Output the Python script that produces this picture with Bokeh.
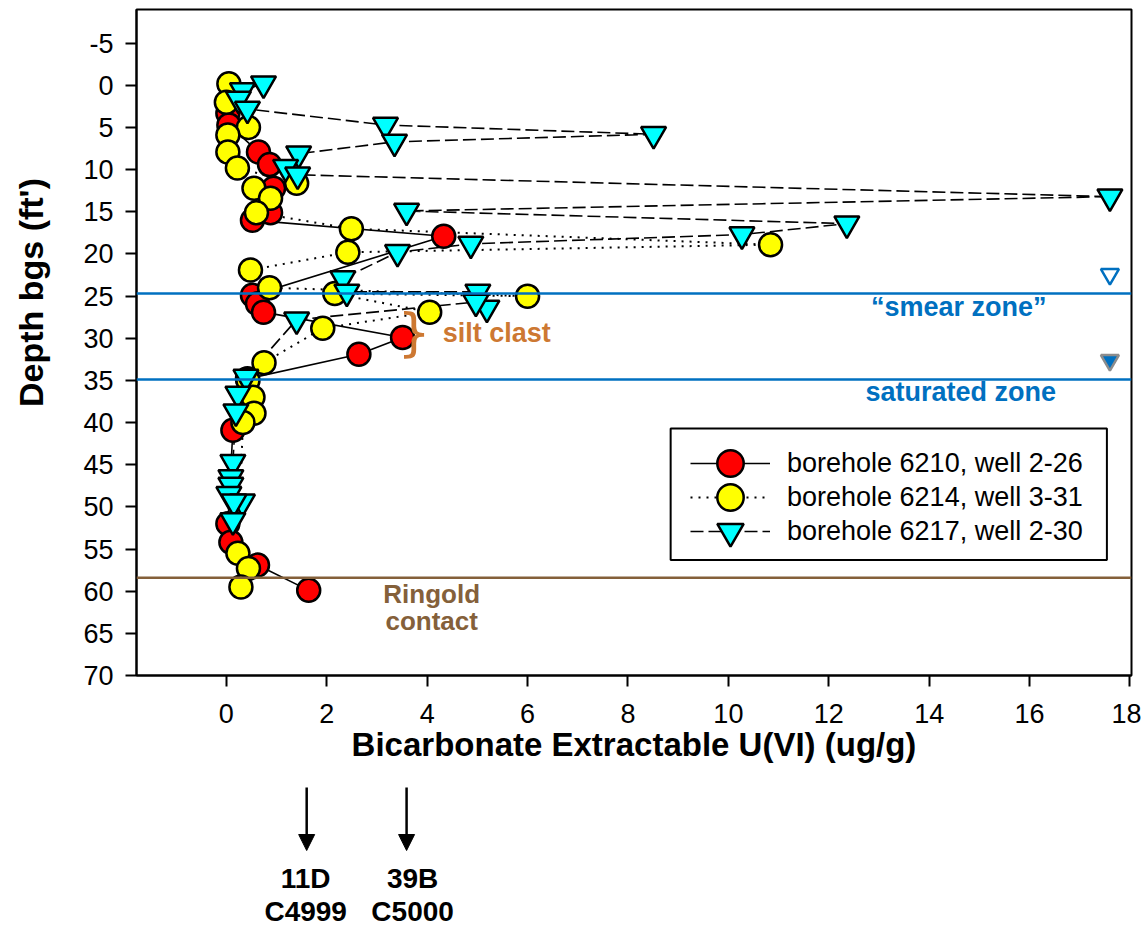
import math
from bokeh.plotting import figure
from bokeh.layouts import column, row
from bokeh.models import (Range1d, FixedTicker, Span, Label, Legend, LegendItem,
                          Arrow, NormalHead, BoxAnnotation)
from bokeh.embed import file_html
from bokeh.resources import INLINE

FONT = "Liberation Sans"

# ---------------- data ----------------
bh6210_u = [0.03, 0.05, 0.64, 0.86, 0.94, 0.88, 0.52, 4.33, 0.52, 0.62, 0.74,
            3.51, 2.64, 0.42, 0.13, 0.03, 0.09, 0.62, 1.64]
bh6210_depth = [3.3, 4.7, 7.9, 9.4, 12.2, 15.1, 16.0, 17.9, 24.9, 25.9, 26.9,
                29.9, 31.9, 34.8, 40.9, 52.0, 54.2, 56.9, 59.9]

bh6214_u = [0.05, 0.0, 0.44, 0.03, 0.03, 0.22, 1.40, 0.55, 0.88, 0.60, 2.49,
            10.84, 2.42, 0.48, 0.86, 6.0, 2.16, 4.05, 1.92, 0.75, 0.43, 0.53,
            0.55, 0.33, 0.23, 0.44, 0.29]
bh6214_depth = [-0.2, 2.0, 5.0, 5.9, 7.9, 9.8, 11.6, 12.2, 13.4, 15.1, 17.0,
                18.9, 19.8, 21.9, 24.0, 25.0, 24.7, 26.9, 28.8, 32.9, 35.0, 37.0,
                38.9, 40.0, 55.5, 57.3, 59.5]

bh6217_u = [0.74, 0.32, 0.24, 0.42, 3.17, 8.51, 3.35, 1.44, 1.18, 1.42, 17.6,
            3.59, 12.36, 10.27, 4.87, 3.41, 2.32, 2.40, 5.01, 5.19, 4.97, 1.40,
            0.39, 0.23, 0.19, 0.13, 0.09, 0.09, 0.05, 0.32, 0.15, 0.13]
bh6217_depth = [-0.2, 0.6, 1.6, 2.8, 4.7, 5.8, 6.7, 8.1, 9.7, 10.6, 13.2,
                14.9, 16.4, 17.7, 18.8, 19.8, 22.9, 24.5, 24.5, 26.4, 25.7, 27.8,
                34.6, 36.6, 38.7, 44.7, 46.5, 47.4, 48.5, 49.4, 49.4, 51.6]

series_labels = ["borehole 6210, well 2-26", "borehole 6214, well 3-31",
                 "borehole 6217, well 2-30"]

y_ticks = [-5, 0, 5, 10, 15, 20, 25, 30, 35, 40, 45, 50, 55, 60, 65, 70]
x_ticks = [0, 2, 4, 6, 8, 10, 12, 14, 16, 18]

zone_depths = [24.7, 34.9]          # smear zone top, saturated zone top
ringold_depth = [58.4]
water_symbol_u = [17.6, 17.6]
water_symbol_depth = [22.4, 32.6]

sample_u = [1.6, 3.59]              # arrow positions on the U(VI) axis
sample_text_u = [1.58, 3.71]
sample_names = [("11D", "C4999"), ("39B", "C5000")]

BLUE = "#0070C0"
BROWN = "#84603A"
ORANGE = "#CD7832"

# ---------------- main figure ----------------
p = figure(width=1081, height=775, output_backend="svg", toolbar_location=None,
           x_range=Range1d(-1.79, 18.03), y_range=Range1d(70, -9.0),
           min_border_left=76, min_border_right=10, min_border_top=9,
           min_border_bottom=100, background_fill_color="white",
           border_fill_color="white")
p.grid.visible = False
p.outline_line_color = "black"
p.outline_line_width = 2

for ax in (p.xaxis[0], p.yaxis[0]):
    ax.axis_line_width = 2
    ax.major_tick_line_width = 2
    ax.major_tick_out = 11
    ax.major_tick_in = 0
    ax.minor_tick_line_color = None
    ax.major_label_text_font = FONT
    ax.major_label_text_font_size = "27px"
    ax.major_label_text_color = "black"

p.yaxis[0].ticker = FixedTicker(ticks=y_ticks)
p.yaxis[0].major_label_overrides = {t: str(t) for t in y_ticks}
p.xaxis[0].ticker = FixedTicker(ticks=x_ticks)
p.yaxis[0].major_label_standoff = 12
p.xaxis[0].major_label_standoff = 17
p.xaxis[0].axis_label = "Bicarbonate Extractable U(VI) (ug/g)"
p.xaxis[0].axis_label_text_font = FONT
p.xaxis[0].axis_label_text_font_style = "bold"
p.xaxis[0].axis_label_text_font_size = "33px"
p.xaxis[0].axis_label_text_color = "black"
p.xaxis[0].axis_label_standoff = 0

# reference lines
for d in zone_depths:
    p.add_layout(Span(location=d, dimension="width", line_color=BLUE, line_width=2.5))
for d in ringold_depth:
    p.add_layout(Span(location=d, dimension="width", line_color=BROWN, line_width=2.5))

# series
l1 = p.line(bh6210_u, bh6210_depth, line_color="black", line_width=1.6)
l2 = p.line(bh6214_u, bh6214_depth, line_color="black", line_width=2,
            line_dash="2 6")
l3 = p.line(bh6217_u, bh6217_depth, line_color="black", line_width=1.6,
            line_dash="13 5")
s1 = p.scatter(bh6210_u, bh6210_depth, marker="circle", size=23,
               fill_color="#FF0000", line_color="black", line_width=2.5)
s2 = p.scatter(bh6214_u, bh6214_depth, marker="circle", size=23,
               fill_color="#FFFF00", line_color="black", line_width=2.5)
s3 = p.scatter(bh6217_u, bh6217_depth, marker="inverted_triangle", size=25,
               fill_color="#00FFFF", line_color="black", line_width=2.5)

# water-table symbols
p.scatter(water_symbol_u[:1], water_symbol_depth[:1], marker="inverted_triangle",
          size=18, fill_color=None, line_color=BLUE, line_width=2.5)
p.scatter(water_symbol_u[1:], water_symbol_depth[1:], marker="inverted_triangle",
          size=18, fill_color=BLUE, line_color="#8C8C8C", line_width=2.5)

# legend: framed box + one single-row legend per series (rows 34 px apart)
p.add_layout(BoxAnnotation(left=8.85, right=17.54, top=40.7, bottom=56.3,
                           fill_color="white", fill_alpha=1.0,
                           line_color="black", line_width=2, line_alpha=1.0))
row_offsets = [179, 145, 111]
for lbl, rs, yoff in zip(series_labels, [[l1, s1], [l2, s2], [l3, s3]], row_offsets):
    lg = Legend(items=[LegendItem(label=lbl, renderers=rs)],
                location=(554, yoff), glyph_width=80, glyph_height=66,
                spacing=0, padding=0, margin=0, label_standoff=17,
                label_text_font=FONT, label_text_font_size="27px",
                label_text_color="black", border_line_color=None,
                background_fill_alpha=0)
    p.add_layout(lg)

def lab(fig, x, y, text, color, size, bold=True, align="center", angle=0.0, font=FONT):
    fig.add_layout(Label(x=x, y=y, text=text, text_color=color,
                         text_font=font, text_font_size=size,
                         text_font_style="bold" if bold else "normal",
                         text_align=align, text_baseline="middle", angle=angle))

lab(p, 14.59, 26.3, "\u201csmear zone\u201d", BLUE, "27px")
lab(p, 14.63, 36.4, "saturated zone", BLUE, "27px")
lab(p, 4.31, 29.4, "silt clast", ORANGE, "27px", align="left")
lab(p, 3.74, 29.3, "}", ORANGE, "52px", bold=False, font="DejaVu Sans")
lab(p, 4.09, 60.3, "Ringold", BROWN, "26px")
lab(p, 4.09, 63.5, "contact", BROWN, "26px")

# ---------------- left strip with the y-axis title ----------------
pl = figure(width=60, height=775, output_backend="svg", toolbar_location=None,
            x_range=Range1d(0, 60), y_range=Range1d(775, 0),
            min_border_left=0, min_border_right=0, min_border_top=0,
            min_border_bottom=0, x_axis_location=None, y_axis_location=None,
            background_fill_color="white", border_fill_color="white")
pl.grid.visible = False
pl.outline_line_color = None
lab(pl, 30, 292, "Depth bgs (ft')", "black", "34px", angle=math.pi / 2)

# ---------------- lower strip with sample arrows ----------------
p2 = figure(width=1081, height=154, output_backend="svg", toolbar_location=None,
            x_range=p.x_range, y_range=Range1d(154, 0),
            min_border_left=76, min_border_right=10, min_border_top=0,
            min_border_bottom=0, x_axis_location=None, y_axis_location=None,
            background_fill_color="white", border_fill_color="white")
p2.grid.visible = False
p2.outline_line_color = None

for xu, xt, (n1, n2) in zip(sample_u, sample_text_u, sample_names):
    p2.add_layout(Arrow(x_start=xu, y_start=12, x_end=xu, y_end=75,
                        line_width=2.5, line_color="black",
                        end=NormalHead(size=16, fill_color="black",
                                       line_color="black")))
    for yy, t in ((103, n1), (136, n2)):
        lab(p2, xt, yy, t, "black", "28px")

layout = row(pl, column(p, p2, spacing=0), spacing=0)
open("out.html", "w").write(file_html(layout, INLINE))
